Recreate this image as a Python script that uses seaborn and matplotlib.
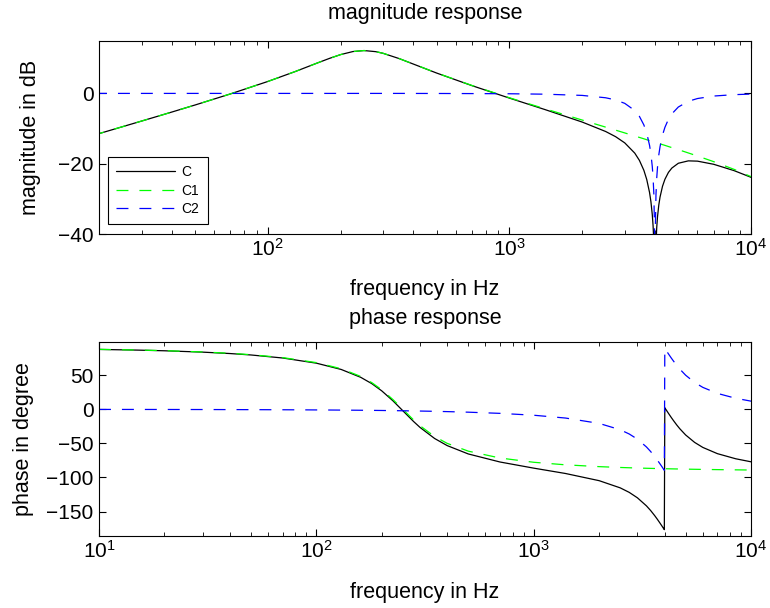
import numpy as np
import pandas as pd
import matplotlib
matplotlib.use("Agg")
import matplotlib.pyplot as plt
import seaborn as sns

# frequency response of C = C1 * C2
freq = [10, 15, 20, 30, 40, 50, 70, 100, 130, 160, 180, 200, 225, 250, 280, 300, 350,
        400, 500, 700, 1000, 1400, 2000, 2500, 2750, 3000, 3300, 3450, 3600, 3700, 3800,
        3850, 3900, 3930, 3960, 3990, 4010, 4040, 4070, 4100, 4150, 4200, 4300, 4400,
        4550, 4700, 5000, 5500, 6000, 7000, 8500, 10000]

# magnitude in dB
mag_c = [-17.49, -13.95, -11.44, -7.87, -5.31, -3.29, -0.14, 3.40, 6.24, 8.64, 9.97, 11.04,
         11.91, 12.19, 11.87, 11.40, 9.89, 8.35, 5.78, 2.20, -1.34, -4.58, -8.15, -10.83,
         -12.31, -14.07, -16.98, -19.05, -21.88, -24.49, -28.18, -30.79, -34.42, -37.60,
         -42.52, -54.55, -54.91, -42.87, -38.09, -35.10, -31.78, -29.49, -26.42, -24.43,
         -22.47, -21.24, -19.87, -19.19, -19.27, -20.16, -21.96, -23.87]
mag_c1 = [-17.49, -13.95, -11.44, -7.87, -5.31, -3.29, -0.14, 3.40, 6.24, 8.64, 9.97, 11.04,
          11.91, 12.19, 11.87, 11.40, 9.89, 8.36, 5.80, 2.25, -1.24, -4.36, -7.58, -9.59,
          -10.45, -11.24, -12.12, -12.52, -12.91, -13.17, -13.42, -13.54, -13.66, -13.73,
          -13.80, -13.87, -13.91, -13.98, -14.05, -14.12, -14.24, -14.35, -14.57, -14.78,
          -15.11, -15.42, -16.00, -16.94, -17.81, -19.41, -21.60, -23.68]
mag_c2 = [0.0, 0.0, 0.0, 0.0, 0.0, 0.0, 0.0, 0.0, 0.0, 0.0, 0.0, 0.0, 0.0, 0.0, 0.0, 0.0, 0.0,
          -0.01, -0.02, -0.05, -0.10, -0.22, -0.57, -1.24, -1.86, -2.83, -4.86, -6.53, -8.97,
          -11.32, -14.76, -17.25, -20.76, -23.87, -28.72, -40.68, -41.00, -28.89, -24.04,
          -20.98, -17.54, -15.14, -11.85, -9.65, -7.36, -5.82, -3.87, -2.25, -1.46, -0.75,
          -0.36, -0.19]

# phase in degree
ph_c = [88.04, 87.05, 86.06, 84.06, 82.01, 79.90, 75.45, 67.86, 58.65, 47.07, 37.74, 27.14,
        12.60, -2.04, -17.78, -26.56, -42.78, -53.23, -65.48, -77.31, -86.31, -94.17,
        -104.72, -115.27, -121.89, -129.89, -141.67, -148.51, -155.94, -161.13, -166.46,
        -169.15, -171.82, -173.43, -175.02, -176.61, 2.33, 0.76, -0.81, -2.36, -4.90,
        -7.38, -12.18, -16.65, -22.89, -28.42, -37.59, -48.51, -55.90, -65.03, -72.55,
        -77.02]
ph_c1 = [88.12, 87.17, 86.22, 84.30, 82.34, 80.31, 76.02, 68.68, 59.71, 48.38, 39.21, 28.77,
         14.44, 0.00, -15.49, -24.10, -39.91, -49.94, -61.35, -71.45, -77.70, -81.44, -84.11,
         -85.33, -85.75, -86.14, -86.51, -86.66, -86.81, -86.90, -86.99, -87.04, -87.08,
         -87.10, -87.12, -87.14, -87.16, -87.18, -87.21, -87.23, -87.27, -87.30, -87.37,
         -87.43, -87.52, -87.61, -87.77, -88.00, -88.19, -88.49, -88.83, -89.08]
ph_c2 = [-0.08, -0.12, -0.16, -0.24, -0.33, -0.41, -0.57, -0.82, -1.06, -1.31, -1.47, -1.63,
         -1.84, -2.04, -2.29, -2.46, -2.87, -3.29, -4.13, -5.86, -8.61, -12.73, -20.61,
         -29.94, -36.14, -43.75, -55.16, -61.85, -69.13, -74.23, -79.47, -82.11, -84.74,
         -86.33, -87.90, -89.47, 89.49, 87.94, 86.40, 84.87, 82.37, 79.92, 75.19, 70.78,
         64.63, 59.19, 50.18, 39.49, 32.29, 23.46, 16.28, 12.06]

labels = ["C", "C1", "C2"]
colors = ["black", "#00ff00", "#0000ff"]

df = pd.DataFrame({"freq": freq, "C": mag_c, "C1": mag_c1, "C2": mag_c2})
dfp = pd.DataFrame({"freq": freq, "C": ph_c, "C1": ph_c1, "C2": ph_c2})

sns.set_theme(style="white")
plt.rcParams["font.family"] = ["Liberation Sans", "DejaVu Sans"]
plt.rcParams["text.color"] = "black"
plt.rcParams["axes.labelcolor"] = "black"
plt.rcParams["lines.scale_dashes"] = False
plt.rcParams["axes.edgecolor"] = "black"
plt.rcParams["axes.linewidth"] = 0.8
plt.rcParams["xtick.direction"] = "in"
plt.rcParams["ytick.direction"] = "in"
plt.rcParams["xtick.top"] = True
plt.rcParams["ytick.right"] = True
plt.rcParams["xtick.bottom"] = True
plt.rcParams["ytick.left"] = True
plt.rcParams["xtick.color"] = "black"
plt.rcParams["ytick.color"] = "black"

dash = (0, (8.6, 7.9))
styles = ["-", dash, dash]

fig = plt.figure(figsize=(7.7, 6.08), dpi=100)
ax1 = fig.add_axes([0.1286, 0.6151, 0.8468, 0.318])
ax2 = fig.add_axes([0.1286, 0.1184, 0.8468, 0.3186])

#magnitude
for name, col, ls in zip(labels, colors, styles):
    sns.lineplot(data=df, x="freq", y=name, ax=ax1, color=col, linestyle=ls,
                 linewidth=0.9, estimator=None, sort=False, label=name)
#phase
for name, col, ls in zip(labels, colors, styles):
    sns.lineplot(data=dfp, x="freq", y=name, ax=ax2, color=col, linestyle=ls,
                 linewidth=0.9, estimator=None, sort=False, legend=False)

for ax in (ax1, ax2):
    ax.set_xscale("log")
    ax.tick_params(axis="both", which="major", labelsize=15, length=5, width=0.8, pad=4,
                   labelcolor="black")
    ax.tick_params(axis="both", which="minor", length=3, width=0.6)
    ax.tick_params(axis="x", which="major", pad=3)
    ax.set_xlabel("frequency in Hz", fontsize=15.5, color="black")

ax1.set_xlim(20, 10000)
ax1.set_ylim(-40, 15)
ax1.set_yticks([-40, -20, 0])
ax1.set_ylabel("magnitude in dB", fontsize=15.5, color="black")
ax1.set_title("magnitude response", fontsize=15.5, pad=15.5, color="black")
ax1.yaxis.set_label_coords(-0.089, 0.5)
ax1.xaxis.set_label_coords(0.5, -0.232)

ax2.set_xlim(10, 10000)
ax2.set_ylim(-186, 98.5)
ax2.set_yticks([-150, -100, -50, 0, 50])
ax2.set_ylabel("phase in degree", fontsize=15.5, color="black")
ax2.set_title("phase response", fontsize=15.5, pad=13, color="black")
ax2.yaxis.set_label_coords(-0.0997, 0.5)
ax2.xaxis.set_label_coords(0.5, -0.235)

leg = ax1.legend(loc="lower left", bbox_to_anchor=(0.0138, 0.0517), borderaxespad=0,
                 fontsize=10, frameon=True, fancybox=False, framealpha=1, edgecolor="black",
                 handlelength=4.25, handletextpad=0.45, labelspacing=0.3, borderpad=0.6)
leg.get_frame().set_linewidth(0.8)
for t in leg.get_texts():
    t.set_color("black")

plt.savefig("out.png", dpi=100)
